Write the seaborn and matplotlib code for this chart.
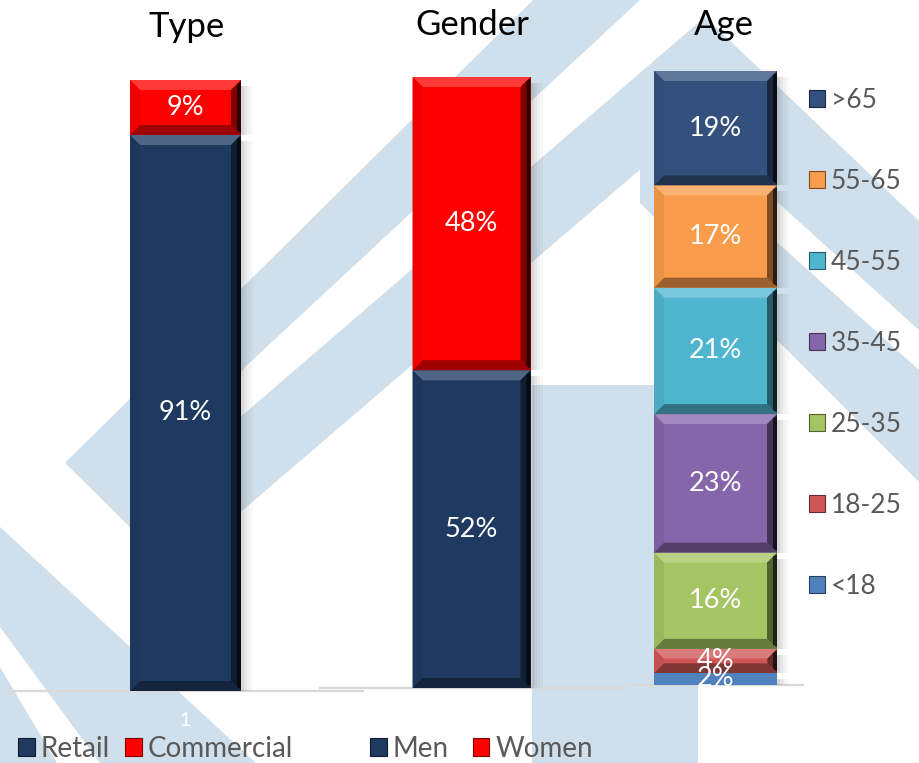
import matplotlib
matplotlib.use("Agg")
import matplotlib.pyplot as plt
import seaborn as sns
import pandas as pd
import numpy as np
from matplotlib.patches import Polygon, Rectangle
from matplotlib.colors import to_rgb

sns.set_theme(style="white")
plt.rcParams['font.family'] = ['Lato', 'DejaVu Sans']

# ---------------- data ----------------
category = ["1"]
type_labels = ["Retail", "Commercial"]
type_values = [91, 9]
type_colors = ["#1F3A60", "#FF0000"]

gender_labels = ["Men", "Women"]
gender_values = [52, 48]
gender_colors = ["#1F3A60", "#FF0000"]

age_labels = ["<18", "18-25", "25-35", "35-45", "45-55", "55-65", ">65"]
age_values = [2, 4, 16, 23, 21, 17, 19]
age_colors = ["#4F81BD", "#D05656", "#A5C463", "#8666AA", "#50B6CF", "#F99C4C", "#34517E"]

titles = ["Type", "Gender", "Age"]

# ---------------- figure ----------------
W, H = 919, 763
fig = plt.figure(figsize=(W / 100, H / 100), dpi=100)
fig.patch.set_facecolor("white")

# background watermark (decorative)
bg = fig.add_axes([0, 0, 1, 1], zorder=0)
bg.set_xlim(0, W)
bg.set_ylim(H, 0)
bg.axis("off")
wm = "#cfdfeb"
shapes = [
    [(65, 463), (533, 0), (640, 0), (245, 367), (130, 527)],
    [(180, 469), (705, 17), (919, 221), (919, 330), (692, 125), (180, 564)],
    [(640, 119), (919, 370), (919, 482), (640, 203)],
    [(532, 385), (698, 385), (698, 763), (532, 763)],
    [(0, 527), (256, 763), (100, 763), (0, 627)],
    [(0, 667), (57, 763), (0, 763)],
]
for s in shapes:
    bg.add_patch(Polygon(s, closed=True, facecolor=wm, edgecolor="none"))


def rect(x0, x1, ybot, ytop):
    return [x0 / W, 1 - ybot / H, (x1 - x0) / W, (ybot - ytop) / H]


def bevel(ax, x0, x1, y0, y1, color, d=10):
    T = ax.transData
    (X0, Y0), (X1, Y1) = T.transform([(x0, y0), (x1, y1)])
    h = Y1 - Y0
    inv = T.inverted()
    base = np.array(to_rgb(color))

    def poly(pts, c, alpha=1.0, z=3):
        ax.add_patch(Polygon(inv.transform(pts), closed=True, facecolor=np.clip(c, 0, 1),
                             edgecolor="none", alpha=alpha, zorder=z, clip_on=False))

    # drop shadow on the right
    for k, a in enumerate([0.22, 0.14, 0.08, 0.04]):
        poly([(X1 + 3 * k, Y1 - 6), (X1 + 3 * k + 3, Y1 - 6), (X1 + 3 * k + 3, Y0), (X1 + 3 * k, Y0)],
             np.array([0.3, 0.3, 0.3]), alpha=a, z=1.5)
    if h < 15:
        return
    dd = min(d, h / 2.5)
    light = base + (1 - base) * 0.22
    dark = base * 0.62
    poly([(X0, Y1), (X1, Y1), (X1 - dd, Y1 - dd), (X0 + dd, Y1 - dd)], light)
    poly([(X0, Y0), (X1, Y0), (X1 - dd, Y0 + dd), (X0 + dd, Y0 + dd)], dark)
    poly([(X1, Y1), (X1, Y0), (X1 - dd, Y0 + dd), (X1 - dd, Y1 - dd)], base * 0.5)
    poly([(X1, Y1 - 2), (X1, Y0 + 2), (X1 - 4, Y0 + 4), (X1 - 4, Y1 - 4)], base * 0.18)
    poly([(X0, Y1), (X0, Y0), (X0 + dd, Y0 + dd), (X0 + dd, Y1 - dd)], base * 0.94)


def stacked(rect_px, values, colors, width, ytop):
    ax = fig.add_axes(rect(*rect_px), zorder=2)
    ax.set_facecolor("none")
    cum = np.cumsum(values)
    bottoms = cum - np.array(values)
    for i in reversed(range(len(values))):
        df = pd.DataFrame({"x": category, "y": [cum[i]]})
        sns.barplot(data=df, x="x", y="y", color=colors[i], saturation=1, width=width,
                    errorbar=None, linewidth=0, edgecolor="none", ax=ax, zorder=2)
    ax.set_xlim(-0.5, 0.5)
    ax.set_ylim(0, ytop)
    for i in range(len(values)):
        bevel(ax, -width / 2, width / 2, bottoms[i], cum[i], colors[i])
        ax.text(0, bottoms[i] + values[i] / 2, f"{values[i]}%", ha="center", va="center",
                color="white", fontsize=19.5, zorder=5)
    ax.set_xlabel("")
    ax.set_ylabel("")
    ax.set_yticks([])
    for sp in ["left", "right", "top"]:
        ax.spines[sp].set_visible(False)
    ax.spines["bottom"].set_color("#d9d9d9")
    ax.spines["bottom"].set_linewidth(1.6)
    ax.spines["bottom"].set_zorder(1)
    ax.tick_params(axis="x", length=0, colors="white", labelsize=14, pad=15)
    return ax


ax1 = stacked((8, 363, 691, 80), type_values, type_colors, 111 / 355, 100)
ax2 = stacked((320, 623, 688, 77), gender_values, gender_colors, 118 / 303, 100)
ax3 = stacked((628, 803, 685, 71), age_values, age_colors, 123 / 175, sum(age_values))

for t, x, y in zip(titles, [187, 472, 724], [37, 35, 35]):
    fig.text(x / W, 1 - y / H, t, ha="center", va="baseline", fontsize=25, color="black")


def handles(colors):
    return [Rectangle((0, 0), 1, 1, facecolor=c, edgecolor=np.array(to_rgb(c)) * 0.5, linewidth=0.8)
            for c in colors]


leg_kw = dict(frameon=False, handlelength=0.6, handleheight=0.6,
              handletextpad=0.22, borderaxespad=0, borderpad=0, labelcolor="#595959")
fig.legend(handles(type_colors), type_labels, loc="center left", ncol=2, fontsize=20,
           bbox_to_anchor=(18 / W, 1 - 749 / H), columnspacing=0.55, **leg_kw)
fig.legend(handles(gender_colors), gender_labels, loc="center left", ncol=2, fontsize=20,
           bbox_to_anchor=(370 / W, 1 - 749 / H), columnspacing=0.85, **leg_kw)
fig.legend(handles(age_colors[::-1]), age_labels[::-1], loc="upper left", ncol=1, fontsize=19,
           bbox_to_anchor=(809 / W, 1 - 88 / H), labelspacing=2.12, **leg_kw)

fig.savefig("out.png", dpi=100, facecolor="white")
